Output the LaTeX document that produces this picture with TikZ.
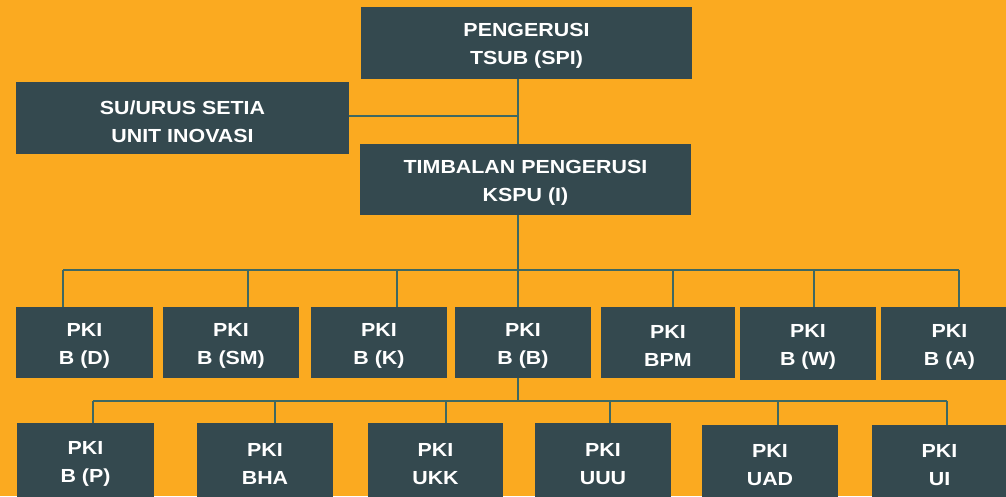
\documentclass[tikz,border=0pt]{standalone}
\usepackage{fontspec}
\newfontfamily\boxfont{Liberation Sans}[FakeStretch=1.13]
\definecolor{bg}{RGB}{251,170,32}
\definecolor{boxc}{RGB}{52,73,79}
\definecolor{linec}{RGB}{62,104,98}
\newcommand{\orgbox}[6]{%
  \node[orgnode, minimum width={(#4-#2)*0.75pt}, minimum height={(#5-#3)*0.75pt}] (#1) at ({(#2+#4)/2},{(#3+#5)/2}) {};
  \node[orgtext] (#1-t) at ([yshift=-2.5pt]#1.center) {#6};}
\begin{document}
\begin{tikzpicture}[x=0.75pt,y=-0.75pt,
  orgnode/.style={fill=boxc, draw=none, inner sep=0pt},
  orgtext/.style={inner sep=0pt, text=white, align=center,
    font=\boxfont\bfseries\fontsize{14.2}{21}\selectfont},
  conn/.style={draw=linec, line width=1.4pt}]
\fill[bg] (0,0) rectangle (1006,496);
\useasboundingbox (0,0) rectangle (1006,496);
\clip (0,0) rectangle (1006,496);
% top level
\orgbox{pg}{361}{7}{692}{79}{PENGERUSI\\TSUB (SPI)}
\orgbox{su}{16}{82}{349}{154}{SU/URUS SETIA\\UNIT INOVASI}
\orgbox{tp}{360}{144}{691}{215}{TIMBALAN PENGERUSI\\KSPU (I)}
% row 2
\orgbox{bd}{16}{307}{153}{378}{PKI\\B (D)}
\orgbox{bsm}{163}{307}{299}{378}{PKI\\B (SM)}
\orgbox{bk}{311}{307}{447}{378}{PKI\\B (K)}
\orgbox{bb}{455}{307}{591}{378}{PKI\\B (B)}
\orgbox{bpm}{601}{307}{735}{378}{PKI\\BPM}
\orgbox{bw}{740}{307}{876}{380}{PKI\\B (W)}
\orgbox{ba}{881}{307}{1018}{380}{PKI\\B (A)}
% row 3
\orgbox{bp}{17}{423}{154}{498}{PKI\\B (P)}
\orgbox{bha}{197}{423}{333}{498}{PKI\\BHA}
\orgbox{ukk}{368}{423}{503}{498}{PKI\\UKK}
\orgbox{uuu}{535}{423}{671}{498}{PKI\\UUU}
\orgbox{uad}{702}{425}{838}{498}{PKI\\UAD}
\orgbox{ui}{872}{425}{1007}{498}{PKI\\UI}
% connector coordinates
\coordinate (tx) at (518,116);
\coordinate (k1) at (63,270);
\coordinate (k2) at (248,270);
\coordinate (k3) at (397,270);
\coordinate (k4) at (518,270);
\coordinate (k5) at (673,270);
\coordinate (k6) at (814,270);
\coordinate (k7) at (959,270);
\coordinate (m1) at (93,401);
\coordinate (m2) at (275,401);
\coordinate (m3) at (446,401);
\coordinate (m0) at (518,401);
\coordinate (m4) at (610,401);
\coordinate (m5) at (778,401);
\coordinate (m6) at (947,401);
% connectors
\draw[conn] (pg.south -| tx) -- (tp.north -| tx);
\draw[conn] (su.east |- tx) -- (tx);
\draw[conn] (tp.south -| k4) -- (k4);
\draw[conn] (k1) -- (k7);
\foreach \k/\n in {k1/bd,k2/bsm,k3/bk,k4/bb,k5/bpm,k6/bw,k7/ba}
  \draw[conn] (\k) -- (\n.north -| \k);
\draw[conn] (bb.south -| m0) -- (m0);
\draw[conn] (m1) -- (m6);
\foreach \m/\n in {m1/bp,m2/bha,m3/ukk,m4/uuu,m5/uad,m6/ui}
  \draw[conn] (\m) -- (\n.north -| \m);
\end{tikzpicture}
\end{document}
